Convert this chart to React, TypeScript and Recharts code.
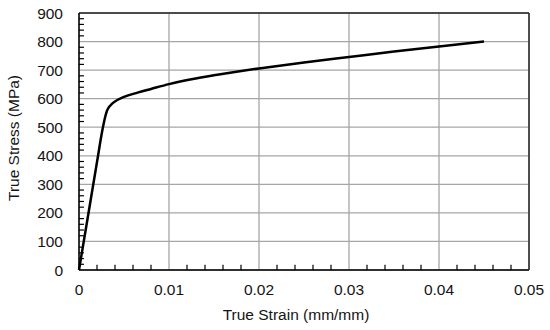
import { LineChart, Line, XAxis, YAxis, CartesianGrid, ReferenceLine } from 'recharts';

// true strain (mm/mm) and true stress (MPa)
const strain = [0, 0.001, 0.002, 0.0026, 0.0029, 0.0031, 0.0033, 0.0036, 0.004, 0.005, 0.0065, 0.008, 0.01, 0.0125, 0.015, 0.0175, 0.02, 0.025, 0.03, 0.035, 0.04, 0.045];
const stress = [0, 189, 378, 490, 535, 557, 569, 580, 590, 606, 621, 634, 651, 668, 682, 694.5, 706, 727, 746, 765, 783, 800];

const xTicks = [0, 0.01, 0.02, 0.03, 0.04, 0.05];
const yTicks = [0, 100, 200, 300, 400, 500, 600, 700, 800, 900];
const xMinorTicks = [0.002, 0.004, 0.006, 0.008, 0.012, 0.014, 0.016, 0.018, 0.022, 0.024, 0.026, 0.028, 0.032, 0.034, 0.036, 0.038, 0.042, 0.044, 0.046, 0.048];
const yMinorTicks = [20, 40, 60, 80, 120, 140, 160, 180, 220, 240, 260, 280, 320, 340, 360, 380, 420, 440, 460, 480, 520, 540, 560, 580, 620, 640, 660, 680, 720, 740, 760, 780, 820, 840, 860, 880];

const data = strain.map((s, i) => ({ strain: s, stress: stress[i] }));

const font = { fontFamily: '"Liberation Sans", Arial, sans-serif', fontSize: 15.5, fill: '#141414' };

export default function App() {
  return (
    <div style={{ position: 'absolute', left: 0, top: 0, background: '#fff' }}>
      <LineChart width={550} height={330} data={data} margin={{ top: 13, right: 21, bottom: 0, left: 0 }}>
        <CartesianGrid stroke="#a6a6a6" strokeWidth={1.3} />
        <XAxis
          type="number"
          dataKey="strain"
          domain={[0, 0.05]}
          ticks={xTicks}
          height={60}
          tickLine={false}
          tickSize={6}
          tickMargin={8}
          tick={font}
          tickFormatter={(v) => String(v)}
          axisLine={{ stroke: '#000', strokeWidth: 1.5 }}
          label={{
            content: () => (
              <text x={296} y={320} textAnchor="middle" {...font}>
                True Strain (mm/mm)
              </text>
            ),
          }}
        />
        {/* top and right frame */}
        <XAxis xAxisId="top" orientation="top" mirror type="number" domain={[0, 0.05]} height={1} tick={false} tickLine={false} axisLine={{ stroke: '#262626', strokeWidth: 1.5 }} />
        <YAxis
          type="number"
          domain={[0, 900]}
          ticks={yTicks}
          width={79}
          tickLine={false}
          tickSize={6}
          tickMargin={10}
          tick={font}
          axisLine={{ stroke: '#000', strokeWidth: 1.5 }}
          label={{
            content: () => (
              <text x={19} y={138} transform="rotate(-90 19 138)" textAnchor="middle" {...font}>
                True Stress (MPa)
              </text>
            ),
          }}
        />
        <YAxis yAxisId="right" orientation="right" mirror type="number" domain={[0, 900]} width={1} tick={false} tickLine={false} axisLine={{ stroke: '#262626', strokeWidth: 1.5 }} />
        {/* minor ticks pointing into the plot */}
        {xMinorTicks.map((v) => (
          <ReferenceLine key={'mx' + v} segment={[{ x: v, y: 0 }, { x: v, y: 18 }]} stroke="#000" strokeWidth={1.2} />
        ))}
        {yMinorTicks.map((v) => (
          <ReferenceLine key={'my' + v} segment={[{ x: 0, y: v }, { x: 0.00055, y: v }]} stroke="#000" strokeWidth={1.2} />
        ))}
        <Line
          type="monotone"
          dataKey="stress"
          stroke="#000"
          strokeWidth={2.5}
          dot={false}
          isAnimationActive={false}
        />
      </LineChart>
    </div>
  );
}
